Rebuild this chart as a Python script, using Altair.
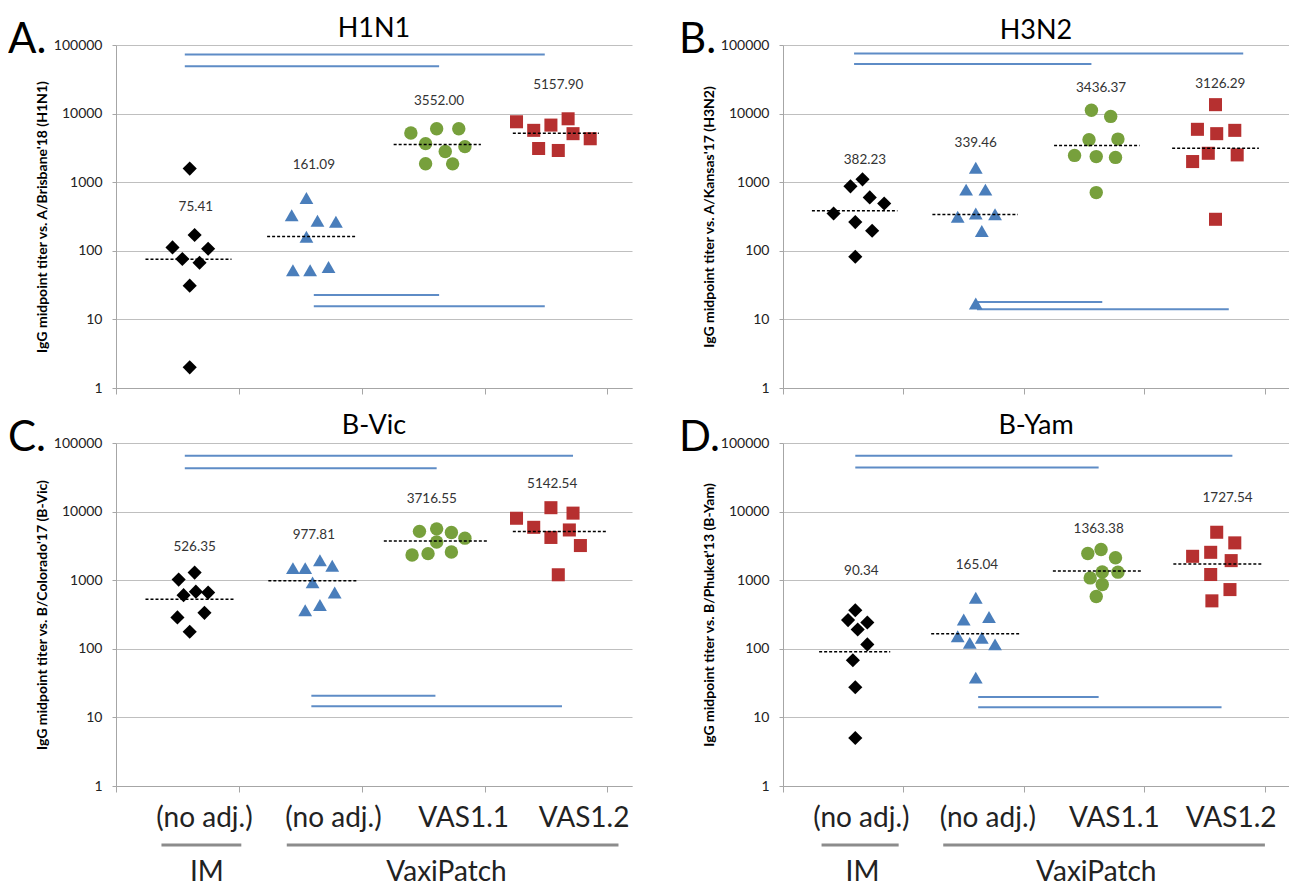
import altair as alt
import pandas as pd

FONT = "Lato"
AXIS_COLOR = "#A6A6A6"
GRID_COLOR = "#BFBFBF"
SIG_COLOR = "#5E8CC6"

groups = ["IM (no adj.)", "VaxiPatch (no adj.)", "VaxiPatch VAS1.1", "VaxiPatch VAS1.2"]
group_shapes = ["diamond", "triangle-up", "circle", "square"]
group_colors = ["#000000", "#4A7EBB", "#77A03C", "#B63030"]
group_sizes = [200, 170, 155, 180]

category_labels = ["(no adj.)", "(no adj.)", "VAS1.1", "VAS1.2"]
route_labels = ["IM", "VaxiPatch"]
y_ticks = [1, 10, 100, 1000, 10000, 100000]
x_ticks = [0, 1, 2, 3, 4]

# ---------------- Panel A : H1N1 ----------------
h1n1_x = [
    [0.60, 0.64, 0.46, 0.75, 0.54, 0.68, 0.60, 0.60],
    [1.55, 1.43, 1.64, 1.79, 1.55, 1.44, 1.58, 1.73],
    [2.40, 2.61, 2.79, 2.52, 2.84, 2.68, 2.52, 2.74],
    [3.26, 3.40, 3.54, 3.68, 3.72, 3.86, 3.44, 3.60],
]
h1n1_y = [
    [1580, 170, 112, 107, 76, 67, 31, 2],
    [590, 330, 274, 265, 160, 52, 52, 58],
    [5200, 6000, 6000, 3650, 3300, 2800, 1860, 1850],
    [7600, 5700, 6800, 8400, 5100, 4300, 3100, 2900],
]
h1n1_mean = [75.41, 161.09, 3552.00, 5157.90]
h1n1_mean_x1 = [0.24, 1.23, 2.26, 3.23]
h1n1_mean_x2 = [0.94, 1.95, 2.97, 3.93]
h1n1_label_x = [0.65, 1.61, 2.63, 3.60]
h1n1_label_y = [437, 1780, 15100, 25700]
h1n1_sig_x1 = [0.56, 0.56, 1.61, 1.61]
h1n1_sig_x2 = [3.49, 2.63, 2.63, 3.49]
h1n1_sig_y = [73000, 49000, 22.6, 15.5]

# ---------------- Panel B : H3N2 ----------------
h3n2_x = [
    [0.66, 0.56, 0.72, 0.84, 0.42, 0.60, 0.74, 0.60],
    [1.60, 1.52, 1.68, 1.45, 1.60, 1.76, 1.65, 1.60],
    [2.56, 2.72, 2.54, 2.78, 2.42, 2.60, 2.76, 2.60],
    [3.59, 3.44, 3.60, 3.75, 3.53, 3.40, 3.77, 3.59],
]
h3n2_y = [
    [1100, 870, 600, 490, 350, 262, 196, 82],
    [1620, 780, 780, 314, 350, 340, 194, 17],
    [11200, 9100, 4150, 4250, 2460, 2360, 2300, 705],
    [13500, 5900, 5100, 5700, 2640, 2000, 2500, 288],
]
h3n2_mean = [382.23, 339.46, 3436.37, 3126.29]
h3n2_mean_x1 = [0.24, 1.24, 2.25, 3.23]
h3n2_mean_x2 = [0.95, 1.95, 2.96, 3.95]
h3n2_label_x = [0.68, 1.60, 2.64, 3.63]
h3n2_label_y = [2140, 3700, 24000, 26900]
h3n2_sig_x1 = [0.59, 0.59, 1.61, 1.61]
h3n2_sig_x2 = [3.82, 2.56, 2.65, 3.70]
h3n2_sig_y = [75000, 53000, 18, 14.1]

# ---------------- Panel C : B-Vic ----------------
bvic_x = [
    [0.64, 0.51, 0.55, 0.65, 0.75, 0.50, 0.72, 0.60],
    [1.66, 1.44, 1.54, 1.76, 1.60, 1.78, 1.54, 1.66],
    [2.47, 2.61, 2.73, 2.84, 2.61, 2.41, 2.54, 2.73],
    [3.54, 3.26, 3.72, 3.40, 3.69, 3.54, 3.78, 3.60],
]
bvic_y = [
    [1290, 1020, 605, 680, 660, 287, 334, 177],
    [1950, 1500, 1500, 1620, 930, 660, 365, 435],
    [5150, 5600, 4950, 4100, 3600, 2330, 2440, 2580],
    [11400, 8000, 9500, 5900, 5400, 4200, 3200, 1200],
]
bvic_mean = [526.35, 977.81, 3716.55, 5142.54]
bvic_mean_x1 = [0.24, 1.24, 2.18, 3.23]
bvic_mean_x2 = [0.96, 1.97, 3.02, 3.99]
bvic_label_x = [0.64, 1.61, 2.57, 3.55]
bvic_label_y = [3090, 4570, 15100, 25100]
bvic_sig_x1 = [0.56, 0.56, 1.59, 1.59]
bvic_sig_x2 = [3.72, 2.61, 2.60, 3.63]
bvic_sig_y = [65000, 43000, 20.7, 14.5]
bvic_cat_x = [0.72, 1.77, 2.83, 3.81]
bvic_route_x1 = [0.37, 1.39]
bvic_route_x2 = [1.02, 4.09]
bvic_route_x = [0.74, 2.69]

# ---------------- Panel D : B-Yam ----------------
byam_x = [
    [0.60, 0.54, 0.70, 0.62, 0.70, 0.58, 0.60, 0.60],
    [1.60, 1.50, 1.71, 1.45, 1.65, 1.55, 1.76, 1.60],
    [2.64, 2.53, 2.76, 2.65, 2.55, 2.78, 2.65, 2.60],
    [3.60, 3.75, 3.40, 3.55, 3.72, 3.55, 3.71, 3.56],
]
byam_y = [
    [365, 262, 242, 191, 116, 68, 27.5, 5],
    [555, 268, 290, 152, 145, 122, 116, 38],
    [2800, 2450, 2130, 1320, 1080, 1310, 865, 580],
    [5000, 3500, 2230, 2550, 1930, 1210, 730, 500],
]
byam_mean = [90.34, 165.04, 1363.38, 1727.54]
byam_mean_x1 = [0.30, 1.23, 2.24, 3.24]
byam_mean_x2 = [0.89, 1.96, 2.97, 3.97]
byam_label_x = [0.65, 1.61, 2.62, 3.69]
byam_label_y = [1380, 1660, 5620, 15800]
byam_sig_x1 = [0.60, 0.60, 1.62, 1.62]
byam_sig_x2 = [3.73, 2.62, 2.62, 3.64]
byam_sig_y = [65000, 44000, 19.8, 14.1]
byam_cat_x = [0.65, 1.70, 2.75, 3.72]
byam_route_x1 = [0.32, 1.33]
byam_route_x2 = [0.96, 4.00]
byam_route_x = [0.66, 2.60]

H = 343


def xs():
    return alt.Scale(domain=[0, 4.2], nice=False, zero=False)


def ys():
    return alt.Scale(type="log", domain=[1, 100000], nice=False)


def panel(letter, letter_dx, width, title_dy, title, ytitle, px, py, mean, mx1, mx2,
          lx, ly, sx1, sx2, sy, cat_x=None, rx1=None, rx2=None, rx=None):
    rows = []
    for g, gx, gy in zip(groups, px, py):
        for a, b in zip(gx, gy):
            rows.append({"group": g, "x": a, "y": b})
    pts = pd.DataFrame(rows)

    xaxis = alt.Axis(values=x_ticks, labels=False, title=None, grid=False,
                     ticks=True, tickSize=6, tickColor=AXIS_COLOR,
                     domainColor=AXIS_COLOR)
    yaxis = alt.Axis(values=y_ticks, format="d", title=ytitle, grid=True,
                     gridColor=GRID_COLOR, gridWidth=1, domainColor=AXIS_COLOR,
                     tickColor=AXIS_COLOR, tickSize=4, labelFontSize=14,
                     labelColor="#222222", labelFont=FONT, titleFont=FONT,
                     titleFontSize=14, titleFontWeight="bold", titleColor="#000000",
                     titlePadding=4, labelPadding=10)

    def X(field):
        return alt.X(field, scale=xs(), axis=xaxis)

    def Y(field):
        return alt.Y(field, scale=ys(), axis=yaxis)

    points = alt.Chart(pts).mark_point(filled=True, opacity=1).encode(
        x=X("x:Q"),
        y=Y("y:Q"),
        shape=alt.Shape("group:N", scale=alt.Scale(domain=groups, range=group_shapes), legend=None),
        color=alt.Color("group:N", scale=alt.Scale(domain=groups, range=group_colors), legend=None),
        size=alt.Size("group:N", scale=alt.Scale(domain=groups, range=group_sizes), legend=None),
    )

    sig_df = pd.DataFrame({"x1": sx1, "x2": sx2, "y": sy})
    sig = alt.Chart(sig_df).mark_rule(color=SIG_COLOR, strokeWidth=2).encode(
        x=X("x1:Q"), x2="x2:Q", y=Y("y:Q"),
    )

    mean_df = pd.DataFrame({"x1": mx1, "x2": mx2, "mean": mean, "lx": lx, "ly": ly})
    means = alt.Chart(mean_df).mark_rule(color="#000000", strokeWidth=1.5,
                                         strokeDash=[3, 2]).encode(
        x=X("x1:Q"), x2="x2:Q", y=Y("mean:Q"),
    )
    labels = alt.Chart(mean_df).mark_text(fontSize=13.5, font=FONT, color="#333333").encode(
        x=X("lx:Q"), y=Y("ly:Q"),
        text=alt.Text("mean:Q", format=".2f"),
    )

    head_df = pd.DataFrame({"letter": [letter], "title": [title]})
    letter_mark = alt.Chart(head_df).mark_text(
        fontSize=42, font=FONT, align="left", baseline="middle", color="#000000"
    ).encode(x=alt.value(letter_dx), y=alt.value(-5), text="letter:N")
    title_mark = alt.Chart(head_df).mark_text(
        fontSize=27, font=FONT, align="center", baseline="middle", color="#000000"
    ).encode(x=alt.value(width / 2), y=alt.value(title_dy), text="title:N")

    layers = [sig, points, means, labels, letter_mark, title_mark]

    if cat_x is not None:
        cat_df = pd.DataFrame({"pos": cat_x, "label": category_labels})
        layers.append(alt.Chart(cat_df).mark_text(fontSize=28, font=FONT, color="#222222",
                                                  baseline="middle").encode(
            x=X("pos:Q"), y=alt.value(H + 33), text="label:N",
        ))
        route_df = pd.DataFrame({"x1": rx1, "x2": rx2, "pos": rx, "label": route_labels})
        layers.append(alt.Chart(route_df).mark_rule(color="#8C8C8C", strokeWidth=3).encode(
            x=X("x1:Q"), x2="x2:Q", y=alt.value(H + 59),
        ))
        layers.append(alt.Chart(route_df).mark_text(fontSize=28, font=FONT, color="#222222",
                                                    baseline="middle").encode(
            x=X("pos:Q"), y=alt.value(H + 87), text="label:N",
        ))

    return alt.layer(*layers).properties(width=width, height=H)


pA = panel("A.", -108, 516, -16, "H1N1", "IgG midpoint titer vs. A/Brisbane'18 (H1N1)",
           h1n1_x, h1n1_y, h1n1_mean, h1n1_mean_x1, h1n1_mean_x2, h1n1_label_x, h1n1_label_y,
           h1n1_sig_x1, h1n1_sig_x2, h1n1_sig_y)
pB = panel("B.", -104, 506, -14, "H3N2", "IgG  midpoint titer vs. A/Kansas'17 (H3N2)",
           h3n2_x, h3n2_y, h3n2_mean, h3n2_mean_x1, h3n2_mean_x2, h3n2_label_x, h3n2_label_y,
           h3n2_sig_x1, h3n2_sig_x2, h3n2_sig_y)
pC = panel("C.", -108, 516, -17, "B-Vic", "IgG midpoint titer vs. B/Colorado'17 (B-Vic)",
           bvic_x, bvic_y, bvic_mean, bvic_mean_x1, bvic_mean_x2, bvic_label_x, bvic_label_y,
           bvic_sig_x1, bvic_sig_x2, bvic_sig_y, bvic_cat_x, bvic_route_x1, bvic_route_x2, bvic_route_x)
pD = panel("D.", -104, 506, -17, "B-Yam", "IgG midpoint titer vs. B/Phuket'13 (B-Yam)",
           byam_x, byam_y, byam_mean, byam_mean_x1, byam_mean_x2, byam_label_x, byam_label_y,
           byam_sig_x1, byam_sig_x2, byam_sig_y, byam_cat_x, byam_route_x1, byam_route_x2, byam_route_x)

chart = alt.vconcat(
    alt.hconcat(pA, pB, spacing=47),
    alt.hconcat(pC, pD, spacing=47),
    spacing=17,
).properties(padding={"left": 0, "top": 7, "right": 0, "bottom": 0}).configure_view(stroke=None)

chart.save("out.html", embed_options={"renderer": "svg", "actions": False})
